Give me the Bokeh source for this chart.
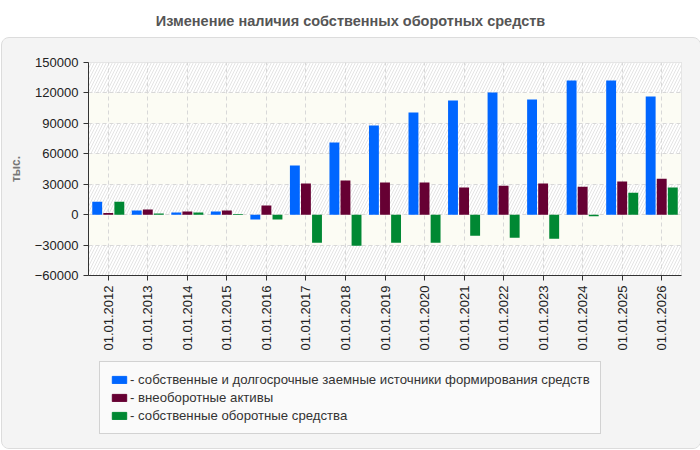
import math
from bokeh.plotting import figure
from bokeh.models import (ColumnDataSource, FactorRange, Range1d, FixedTicker,
                          BasicTickFormatter, BoxAnnotation, Legend, LegendItem, Label)
from bokeh.transform import dodge
from bokeh.layouts import column
from bokeh.embed import file_html
from bokeh.resources import INLINE

title_text = "Изменение наличия собственных оборотных средств"
y_label = "тыс."
dates = ["01.01.2012", "01.01.2013", "01.01.2014", "01.01.2015", "01.01.2016",
         "01.01.2017", "01.01.2018", "01.01.2019", "01.01.2020", "01.01.2021",
         "01.01.2022", "01.01.2023", "01.01.2024", "01.01.2025", "01.01.2026"]
own_and_long = [12800, 4200, 2200, 3200, -4800, 48400, 71100, 87900, 100700,
                112500, 120400, 113500, 132300, 132300, 116500]
noncurrent = [1500, 5000, 3200, 4200, 9000, 30600, 33600, 31600, 31600,
              26700, 28600, 30600, 27600, 32600, 35500]
working = [12800, 1200, 2200, 600, -4800, -27600, -30600, -27600, -27600,
           -20700, -22700, -23700, -1500, 21700, 26700]
series_labels = ["- собственные и долгосрочные заемные источники формирования средств",
                 "- внеоборотные активы",
                 "- собственные оборотные средства"]
colors = ["#0066ff", "#660033", "#008833"]
y_ticks = [-60000, -30000, 0, 30000, 60000, 90000, 120000, 150000]

FONT = "Liberation Sans"
PANEL = "#f4f4f4"

# ---------- title strip ----------
pt = figure(width=700, height=37, x_range=Range1d(0, 1), y_range=Range1d(0, 1),
            x_axis_type=None, y_axis_type=None, toolbar_location=None,
            output_backend="svg", min_border=0, min_border_left=88, min_border_right=20,
            outline_line_color=None,
            background_fill_color="white", border_fill_color="white")
pt.xgrid.visible = False
pt.ygrid.visible = False
pt.add_layout(Label(x=262, y=17, x_units="screen", y_units="screen", text=title_text,
                    text_align="center", text_baseline="middle",
                    text_font=FONT, text_font_size="14.5px", text_font_style="bold",
                    text_color="#555555"))

# ---------- main chart ----------
src = ColumnDataSource(dict(d=dates, a=own_and_long, b=noncurrent, c=working))

p = figure(width=698, height=322, x_range=FactorRange(*dates),
           y_range=Range1d(y_ticks[0], y_ticks[-1]),
           toolbar_location=None, output_backend="svg",
           background_fill_color="#ffffff", border_fill_color=PANEL,
           min_border_left=86, min_border_right=19, min_border_top=24,
           min_border_bottom=85, outline_line_color="#dddddd")

# alternating background bands
for i in range(len(y_ticks) - 1):
    hatched = (len(y_ticks) - 2 - i) % 2 == 0
    if hatched:
        band = BoxAnnotation(bottom=y_ticks[i], top=y_ticks[i + 1], fill_color="#ffffff",
                             fill_alpha=1, line_color=None, hatch_pattern="/",
                             hatch_color="#e4e4e4", hatch_scale=6, hatch_weight=1,
                             level="image")
    else:
        band = BoxAnnotation(bottom=y_ticks[i], top=y_ticks[i + 1], fill_color="#fcfcf4",
                             fill_alpha=1, line_color=None, level="image")
    p.add_layout(band)

w = 0.25
off = 0.28
for col, dx, color in zip(["a", "b", "c"], [-off, 0, off], colors):
    p.vbar(x=dodge("d", dx, range=p.x_range), top=col, bottom=0, width=w,
           source=src, fill_color=color, line_color=None)

# grids
for g in (p.xgrid, p.ygrid):
    g.grid_line_color = "#d8d8d8"
    g.grid_line_dash = "4 3"
    g.grid_line_width = 1
p.ygrid.ticker = FixedTicker(ticks=y_ticks)

# axes
p.yaxis.ticker = FixedTicker(ticks=y_ticks)
p.yaxis.formatter = BasicTickFormatter(use_scientific=False)
p.yaxis.axis_label = y_label
p.yaxis.axis_label_text_font = FONT
p.yaxis.axis_label_text_font_size = "12px"
p.yaxis.axis_label_text_font_style = "bold"
p.yaxis.axis_label_text_color = "#777777"
p.yaxis.axis_label_standoff = 9
for ax in (p.xaxis[0], p.yaxis[0]):
    ax.axis_line_color = "#333333"
    ax.major_tick_line_color = "#333333"
    ax.major_tick_out = 5
    ax.major_tick_in = 0
    ax.minor_tick_line_color = None
    ax.major_label_text_font = FONT
    ax.major_label_text_font_size = "13px"
    ax.major_label_text_color = "#222222"
p.xaxis.major_label_orientation = math.pi / 2

# ---------- legend strip ----------
pl = figure(width=698, height=88, x_range=Range1d(0, 1), y_range=Range1d(0, 1),
            x_axis_type=None, y_axis_type=None, toolbar_location=None,
            output_backend="svg", min_border=0, min_border_left=86, min_border_right=19,
            outline_line_color=None, background_fill_color=PANEL, border_fill_color=PANEL)
pl.xgrid.visible = False
pl.ygrid.visible = False
# off-screen placeholder bars, only used to give the legend its swatches
dummy = ColumnDataSource(dict(x=[-10], top=[0]))
legend_renderers = []
for color in colors:
    legend_renderers.append(pl.vbar(x="x", top="top", width=0.1, source=dummy,
                                    fill_color=color, line_color=color))
legend = Legend(items=[LegendItem(label=l, renderers=[r], index=0)
                       for l, r in zip(series_labels, legend_renderers)],
                location=(11, 14), orientation="vertical", margin=0, padding=10,
                spacing=3, glyph_width=18, glyph_height=9, label_height=14,
                label_standoff=2, label_text_font=FONT, label_text_font_size="13.2px",
                label_text_color="#333333", background_fill_color="#fafafa",
                background_fill_alpha=1, border_line_color="#aaaaaa", border_line_width=1)
pl.add_layout(legend)

inner = column(p, pl, spacing=0, margin=(0, 0, 0, 1),
               styles={"border": "1px solid #dcdcdc", "border-radius": "8px",
                       "background": PANEL, "overflow": "hidden"})
layout = column(pt, inner, spacing=0)

open("out.html", "w").write(file_html(layout, INLINE))
